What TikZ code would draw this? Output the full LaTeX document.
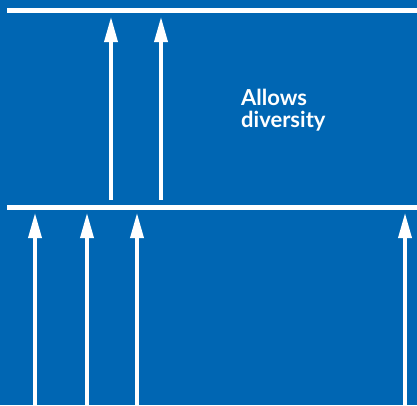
\documentclass[tikz,border=0pt]{standalone}
\usepackage{fontspec}
\setsansfont{Lato}
\usetikzlibrary{arrows.meta}
\definecolor{panelblue}{RGB}{0,102,179}

\begin{document}
\begin{tikzpicture}[x=1pt, y=-1pt, >={Triangle[length=25pt,width=13pt]}]
        \fill[panelblue] (0,0) rectangle (417,405);
        \useasboundingbox (0,0) rectangle (417,405);
        % two levels
        \draw[white, line width=5pt] (7,10.5) -- (417,10.5);
        \draw[white, line width=5pt] (7,207.5) -- (417,207.5);
        % arrows up to the top level
        \foreach \x in {111,161}
          \draw[->, white, line width=3.5pt] (\x,200) -- (\x,17);
        % arrows up to the lower level
        \foreach \x in {35,87,137,405}
          \draw[->, white, line width=3.5pt] (\x,406) -- (\x,213);
        % last line sits on the base anchor
        \node[anchor=base west, inner sep=0pt, align=left, text=white,
              font=\sffamily\bfseries\fontsize{22}{22.5}\selectfont]
              (diversity) at (241,127.5) {Allows\\diversity};
      \end{tikzpicture}
\end{document}
